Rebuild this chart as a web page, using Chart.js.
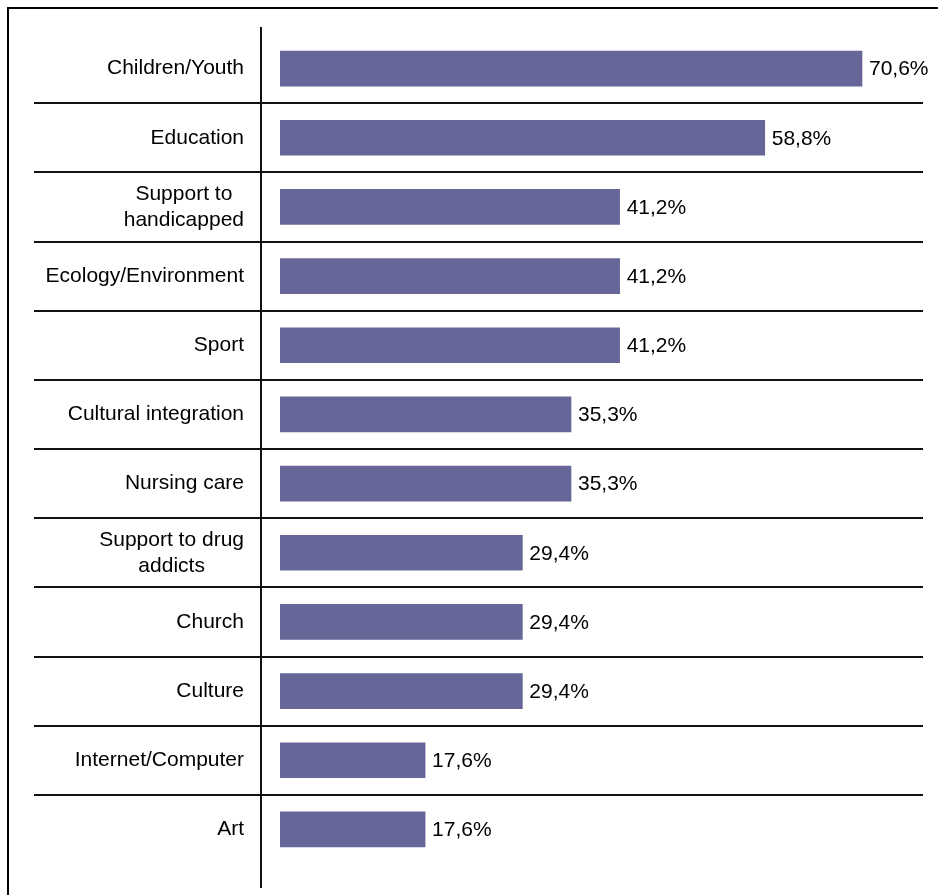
<!DOCTYPE html>
<html>
<head>
<meta charset="utf-8">
<script src="https://cdn.jsdelivr.net/npm/chart.js@4/dist/chart.umd.min.js"></script>
<style>
    html, body { margin: 0; padding: 0; background: #fff; }
    canvas { display: block; }
</style>
</head>
<body>
<canvas id="graficoAreas" width="938" height="895"></canvas>
<script>
'use strict';

const categorias = [
    'Children/Youth',
    'Education',
    ['Support to', 'handicapped'],
    'Ecology/Environment',
    'Sport',
    'Cultural integration',
    'Nursing care',
    ['Support to drug', 'addicts'],
    'Church',
    'Culture',
    'Internet/Computer',
    'Art'
];
const valores = [70.6, 58.8, 41.2, 41.2, 41.2, 35.3, 35.3, 29.4, 29.4, 29.4, 17.6, 17.6];
const escalaMaxima = 78;

const fonte = '21px "Liberation Sans", Arial, sans-serif';
//========================================================================================

function formataPercentual(valor) {
    return valor.toFixed(1).replace('.', ',') + '%';
};

// moldura, linhas entre categorias, linha vertical e nomes das categorias
const desenhoFundo = {
    id: 'desenhoFundo',
    beforeDatasetsDraw(chart) {
        const ctx = chart.ctx;
        const area = chart.chartArea;
        const eixoY = chart.scales.y;
        ctx.save();

        // moldura (esquerda e topo)
        ctx.strokeStyle = '#000';
        ctx.lineWidth = 2;
        ctx.beginPath();
        ctx.moveTo(8, chart.height);
        ctx.lineTo(8, 8);
        ctx.lineTo(chart.width, 8);
        ctx.stroke();

        // separadores
        ctx.strokeStyle = '#111';
        ctx.lineWidth = 2;
        for (let i = 0; i < categorias.length - 1; i++) {
            const y = Math.round((eixoY.getPixelForValue(i) + eixoY.getPixelForValue(i + 1)) / 2);
            ctx.beginPath();
            ctx.moveTo(34, y);
            ctx.lineTo(area.right, y);
            ctx.stroke();
        }

        // linha vertical
        ctx.beginPath();
        ctx.moveTo(area.left - 19, area.top - 7);
        ctx.lineTo(area.left - 19, area.bottom + 24);
        ctx.stroke();

        // nomes das categorias
        ctx.font = fonte;
        ctx.fillStyle = '#000';
        ctx.textAlign = 'center';
        ctx.textBaseline = 'middle';
        const direita = area.left - 36;
        categorias.forEach((nome, i) => {
            const linhas = Array.isArray(nome) ? nome : [nome];
            const largura = Math.max(...linhas.map(l => ctx.measureText(l).width));
            const centro = eixoY.getPixelForValue(i);
            const alturaLinha = 26;
            linhas.forEach((linha, j) => {
                const y = centro + (j - (linhas.length - 1) / 2) * alturaLinha;
                ctx.fillText(linha, direita - largura / 2, y);
            });
        });
        ctx.restore();
    }
};
//========================================================================================

// rotulos de valor na ponta das barras
const rotulosValor = {
    id: 'rotulosValor',
    afterDatasetsDraw(chart) {
        const ctx = chart.ctx;
        const meta = chart.getDatasetMeta(0);
        ctx.save();
        ctx.font = fonte;
        ctx.fillStyle = '#000';
        ctx.textAlign = 'left';
        ctx.textBaseline = 'middle';
        meta.data.forEach((barra, i) => {
            ctx.fillText(formataPercentual(valores[i]), barra.x + 7, barra.y + 1);
        });
        ctx.restore();
    }
};
//========================================================================================

const graficoAreas = new Chart(document.getElementById('graficoAreas'), {
    type: 'bar',
    data: {
        labels: categorias,
        datasets: [{
            data: valores,
            backgroundColor: '#666699',
            borderWidth: 0,
            barThickness: 35
        }]
    },
    options: {
        indexAxis: 'y',
        responsive: false,
        animation: false,
        layout: {
            padding: { left: 280, right: 15, top: 34, bottom: 31 }
        },
        scales: {
            x: { display: false, min: 0, max: escalaMaxima },
            y: { display: false }
        },
        plugins: {
            legend: { display: false },
            tooltip: { enabled: false }
        }
    },
    plugins: [desenhoFundo, rotulosValor]
});
</script>
</body>
</html>
